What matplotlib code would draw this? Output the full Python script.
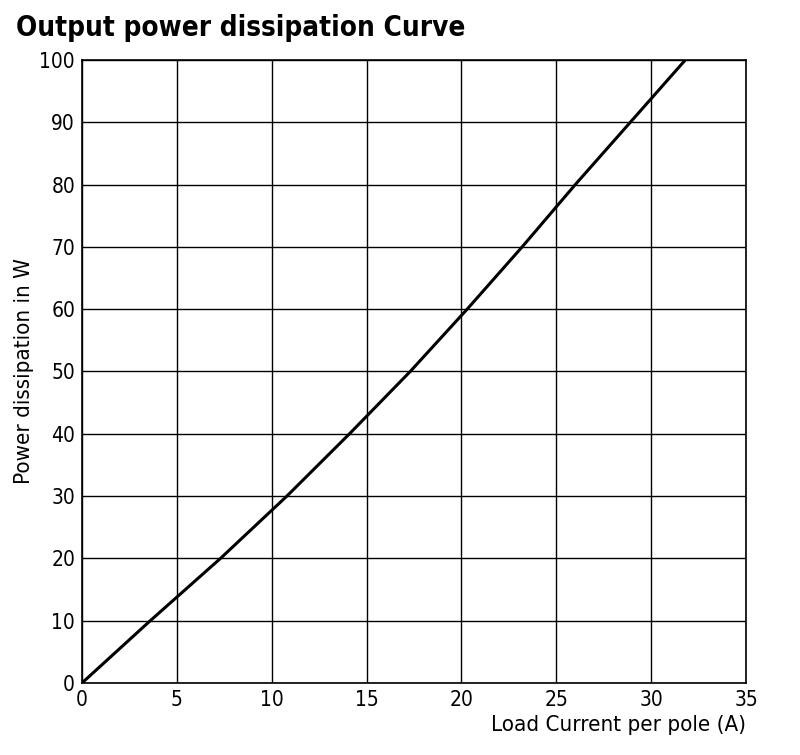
import matplotlib
matplotlib.use("Agg")
import matplotlib.pyplot as plt

current = [0, 3.6, 7.3, 10.8, 14.1, 17.3, 20.3, 23.2, 26.0, 28.9, 31.8]
power = [0, 10, 20, 30, 40, 50, 60, 70, 80, 90, 100]
xticks = [0, 5, 10, 15, 20, 25, 30, 35]
yticks = [0, 10, 20, 30, 40, 50, 60, 70, 80, 90, 100]

plt.rcParams['font.family'] = ['DejaVu Sans']
plt.rcParams['font.stretch'] = 'condensed'
fig = plt.figure(figsize=(8, 7.55), dpi=100)
ax = fig.add_axes([0.1025, 0.0954, 0.83, 0.8251])
ax.plot(current, power, color='black', lw=2.2)
ax.set_xlim(0, 35)
ax.set_ylim(0, 100)
ax.set_xticks(xticks)
ax.set_yticks(yticks)
ax.grid(True, color='black', lw=1)
for s in ax.spines.values():
    s.set_color('black'); s.set_linewidth(1.2)
ax.tick_params(labelsize=15, length=0, pad=5)
ax.set_ylabel('Power dissipation in W', fontsize=16, labelpad=4)
ax.set_xlabel('Load Current per pole (A)', fontsize=16, loc='right', labelpad=4)
fig.text(0.02, 0.952, 'Output power dissipation Curve', fontsize=20, fontweight='bold', ha='left')
fig.savefig('out.png', dpi=100)
